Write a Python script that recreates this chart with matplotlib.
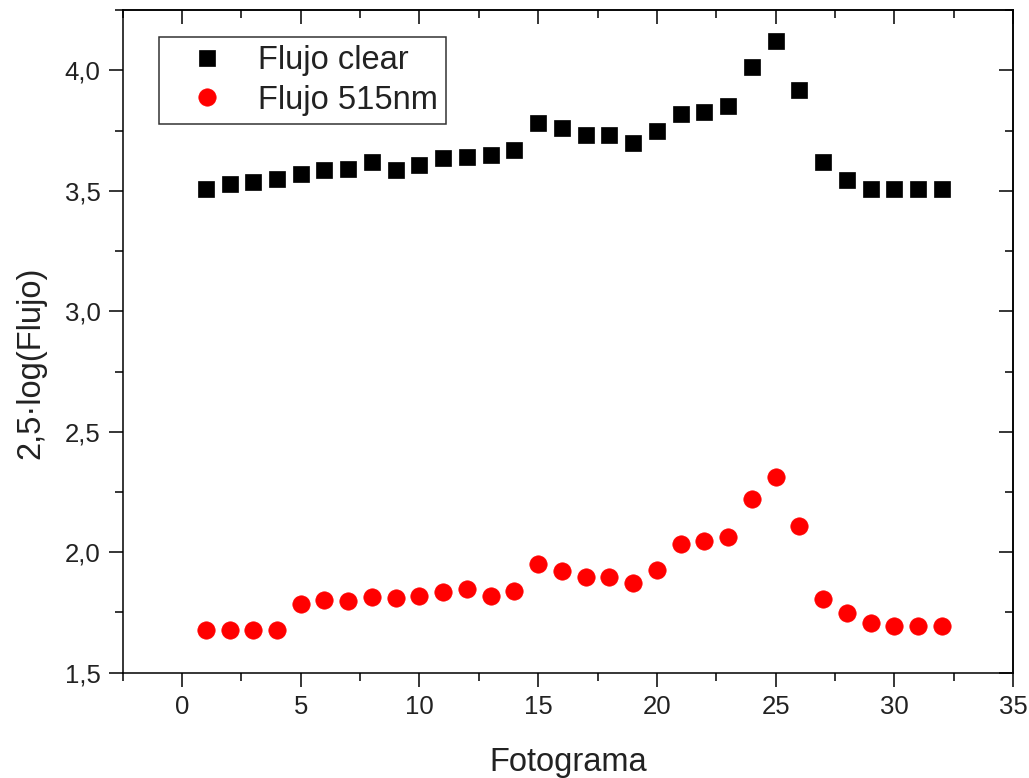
import matplotlib
matplotlib.use("Agg")
import matplotlib.pyplot as plt
from matplotlib.ticker import MultipleLocator, FuncFormatter

frames = list(range(1, 33))
flujo_clear = [3.507, 3.53, 3.535, 3.55, 3.57, 3.585, 3.59, 3.62, 3.585, 3.605,
               3.635, 3.64, 3.65, 3.67, 3.78, 3.76, 3.73, 3.73, 3.70, 3.75,
               3.82, 3.825, 3.85, 4.015, 4.12, 3.92, 3.618, 3.545, 3.506, 3.506,
               3.506, 3.506]
flujo_515 = [1.677, 1.677, 1.677, 1.677, 1.785, 1.80, 1.797, 1.814, 1.81, 1.82,
             1.835, 1.847, 1.82, 1.84, 1.95, 1.923, 1.898, 1.898, 1.871, 1.925,
             2.033, 2.048, 2.063, 2.22, 2.312, 2.109, 1.807, 1.746, 1.705, 1.694,
             1.694, 1.694]

plt.rcParams['font.family'] = ['Liberation Sans', 'DejaVu Sans']

fig = plt.figure(figsize=(10.29, 7.78), dpi=100)
ax = fig.add_axes([0.1192, 0.1353, 0.9845 - 0.1192, 0.9871 - 0.1353])

ax.plot(frames, flujo_clear, linestyle='none', marker='s', markersize=11.5,
        color='black', markeredgewidth=0.5, label='Flujo clear')
ax.plot(frames, flujo_515, linestyle='none', marker='o', markersize=12.5,
        color='red', markeredgewidth=0.5, label='Flujo 515nm')

ax.set_xlim(-2.5, 35)
ax.set_ylim(1.5, 4.25)
ax.xaxis.set_major_locator(MultipleLocator(5))
ax.xaxis.set_minor_locator(MultipleLocator(2.5))
ax.yaxis.set_major_locator(MultipleLocator(0.5))
ax.yaxis.set_minor_locator(MultipleLocator(0.25))
ax.yaxis.set_major_formatter(FuncFormatter(lambda v, p: f"{v:.1f}".replace('.', ',')))

for s in ax.spines.values():
    s.set_linewidth(1.1)

ax.tick_params(which='both', direction='out', top=False, right=False,
               labelsize=18.5, width=1.1, pad=6, labelcolor='#222222')
ax.tick_params(which='major', length=10)
ax.tick_params(which='minor', length=5.5)

# inward ticks on top and right
axt = ax.secondary_xaxis('top')
axt.xaxis.set_major_locator(MultipleLocator(5))
axt.xaxis.set_minor_locator(MultipleLocator(2.5))
axt.tick_params(which='both', direction='in', labeltop=False, width=1.1)
axt.tick_params(which='major', length=10)
axt.tick_params(which='minor', length=5.5)
axr = ax.secondary_yaxis('right')
axr.yaxis.set_major_locator(MultipleLocator(0.5))
axr.yaxis.set_minor_locator(MultipleLocator(0.25))
axr.tick_params(which='both', direction='in', labelright=False, width=1.1)
axr.tick_params(which='major', length=10)
axr.tick_params(which='minor', length=5.5)
for a in (axt, axr):
    for s in a.spines.values():
        s.set_linewidth(1.1)

ax.set_xlabel('Fotograma', fontsize=23.5, labelpad=20, color='#222222')
ax.set_ylabel('2,5·log(Flujo)', fontsize=23.5, color='#222222')
ax.yaxis.set_label_coords(-0.0862, 0.467)

leg = ax.legend(loc='upper left', bbox_to_anchor=(0.0405, 0.959), fontsize=23.5,
                frameon=True, fancybox=False, edgecolor='black',
                borderpad=0.25, handletextpad=0.35, labelspacing=0.25,
                handlelength=2.45, borderaxespad=0)
leg.get_frame().set_linewidth(1.1)
for t in leg.get_texts():
    t.set_color('#222222')

fig.savefig('out.png', dpi=100)
